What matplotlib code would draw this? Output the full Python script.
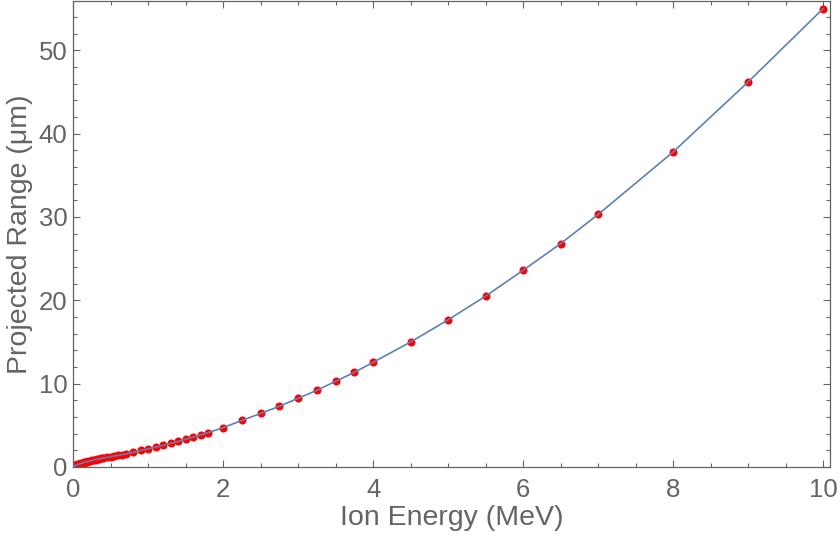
import matplotlib
matplotlib.use("Agg")
import matplotlib.pyplot as plt
from matplotlib.ticker import MultipleLocator

# ion energy (MeV) and projected range (um)
energy = [0.01, 0.011, 0.012, 0.013, 0.014, 0.015, 0.016, 0.017, 0.018, 0.02,
          0.0225, 0.025, 0.0275, 0.03, 0.0325, 0.035, 0.0375, 0.04, 0.045, 0.05,
          0.055, 0.06, 0.065, 0.07, 0.08, 0.09, 0.1, 0.11, 0.12, 0.13,
          0.14, 0.15, 0.16, 0.17, 0.18, 0.2, 0.225, 0.25, 0.275, 0.3,
          0.325, 0.35, 0.375, 0.4, 0.45, 0.5, 0.55, 0.6, 0.65, 0.7,
          0.8, 0.9, 1.0, 1.1, 1.2, 1.3, 1.4, 1.5, 1.6, 1.7,
          1.8, 2.0, 2.25, 2.5, 2.75, 3.0, 3.25, 3.5, 3.75, 4.0,
          4.5, 5.0, 5.5, 6.0, 6.5, 7.0, 8.0, 9.0, 10.0]
proj_range = [0.08, 0.09, 0.09, 0.10, 0.10, 0.11, 0.12, 0.12, 0.13, 0.14,
              0.15, 0.16, 0.17, 0.18, 0.19, 0.20, 0.21, 0.22, 0.24, 0.25,
              0.27, 0.29, 0.30, 0.32, 0.35, 0.38, 0.41, 0.44, 0.47, 0.50,
              0.52, 0.55, 0.57, 0.60, 0.62, 0.67, 0.72, 0.78, 0.83, 0.88,
              0.93, 0.97, 1.02, 1.06, 1.15, 1.24, 1.32, 1.40, 1.48, 1.56,
              1.76, 1.98, 2.17, 2.38, 2.60, 2.82, 3.06, 3.32, 3.58, 3.85,
              4.12, 4.72, 5.58, 6.42, 7.28, 8.24, 9.20, 10.28, 11.35, 12.55,
              15.0, 17.65, 20.5, 23.6, 26.8, 30.3, 37.8, 46.2, 55.0]

gray = "#646464"
plt.rcParams["font.family"] = ["Liberation Sans", "DejaVu Sans"]

fig = plt.figure(figsize=(8.4, 5.44), dpi=100)
ax = fig.add_axes([73 / 840, 77 / 544, 757 / 840, 466 / 544])

ax.plot(energy, proj_range, "o", color="#ff0000", ms=5.8, mec="none", zorder=2)
ax.plot(energy, proj_range, "-", color="#5e81b5", lw=1.2, zorder=3)

ax.set_xlim(0, 10.09)
ax.set_ylim(0, 55.9)
ax.xaxis.set_major_locator(MultipleLocator(2))
ax.xaxis.set_minor_locator(MultipleLocator(0.5))
ax.yaxis.set_major_locator(MultipleLocator(10))
ax.yaxis.set_minor_locator(MultipleLocator(2))

ax.tick_params(which="both", direction="in", top=True, right=True,
               color=gray, labelcolor=gray, labelsize=18.5, width=0.8)
ax.tick_params(which="major", length=5)
ax.tick_params(which="minor", length=3)
ax.tick_params(axis="x", which="major", pad=8)
ax.tick_params(axis="y", which="major", pad=4)
for s in ax.spines.values():
    s.set_color(gray)
    s.set_linewidth(0.9)

ax.set_xlabel("Ion Energy (MeV)", fontsize=20.5, color=gray, labelpad=2)
ax.set_ylabel("Projected Range (μm)", fontsize=20.5, color=gray, labelpad=4)

fig.savefig("out.png", dpi=100)
